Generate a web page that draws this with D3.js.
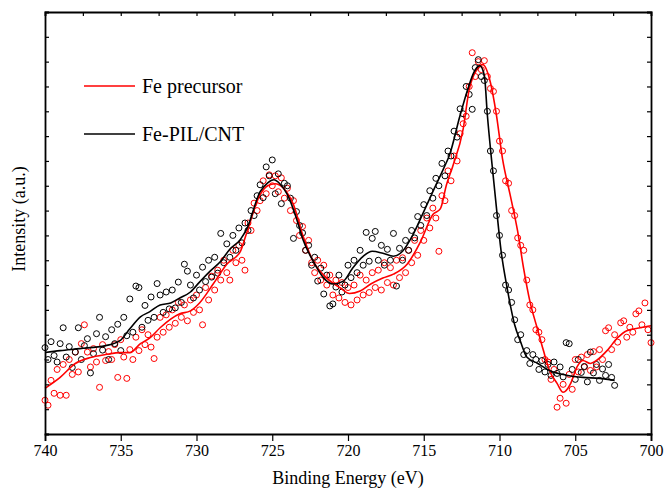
<!DOCTYPE html>
<html>
<head>
<meta charset="utf-8">
<script src="https://cdn.jsdelivr.net/npm/d3@7"></script>
<style>
  body { margin: 0; background: #fff; }
  text { font-family: "Liberation Serif", "Times New Roman", serif; fill: #000; }
</style>
</head>
<body>
<svg id="chart"></svg>
<script>
// scan grid: binding energy of the first point and the step between points (eV)
const scanStart = 740;
const scanStep = 0.2;

// measured points, Fe precursor (740 -> 700 eV)
const redCounts = [
  136, 116, 216, 164, 260, 156, 280, 156, 300, 240,
  330, 250, 364, 440, 330, 270, 344, 290, 188, 360,
  296, 332, 300, 360, 228, 380, 310, 224, 340, 300,
  390, 336, 420, 360, 400, 350, 304, 390, 470, 410,
  480, 430, 500, 446, 530, 470, 520, 456, 540, 490,
  560, 500, 440, 590, 540, 636, 580, 660, 620, 700,
  650, 620, 740, 690, 760, 700, 660, 850, 820, 930,
  900, 940, 1020, 968, 1044, 1000, 1040, 976, 1032, 950,
  990, 900, 940, 860, 800, 836, 740, 780, 690, 650,
  700, 620, 680, 600, 640, 560, 620, 548, 610, 530,
  590, 520, 600, 540, 640, 560, 620, 570, 650, 590,
  660, 580, 690, 610, 670, 600, 700, 630, 710, 650,
  740, 690, 780, 720, 820, 780, 870, 830, 910, 870,
  736, 960, 940, 1060, 1020, 1120, 1100, 1210, 1250, 1280,
  1400, 1536, 1440, 1500, 1468, 1504, 1440, 1392, 1380, 1300,
  1180, 1140, 1020, 1010, 900, 880, 790, 760, 740, 620,
  520, 500, 420, 410, 380, 300, 290, 220, 260, 108,
  144, 200, 124, 240, 180, 300, 250, 310, 270, 320,
  256, 332, 270, 340, 300, 416, 428, 340, 400, 370,
  448, 456, 390, 430, 410, 484, 496, 440, 528, 420,
  368,
];

// measured points, Fe-PIL/CNT (740 -> 702.4 eV)
const blackCounts = [
  348, 300, 372, 316, 290, 364, 428, 310, 352, 268,
  330, 428, 300, 356, 384, 246, 324, 404, 470, 338,
  392, 300, 420, 364, 442, 336, 470, 396, 544, 410,
  596, 590, 430, 518, 458, 552, 470, 606, 560, 490,
  572, 504, 580, 508, 612, 530, 684, 656, 600, 548,
  640, 580, 672, 614, 700, 632, 712, 648, 808, 690,
  766, 712, 800, 740, 830, 770, 850, 820, 900, 880,
  960, 1004, 952, 1076, 1040, 1104, 968, 1048, 928, 1010,
  1000, 950, 788, 896, 840, 810, 740, 760, 680, 712,
  616, 668, 564, 640, 516, 524, 592, 640, 572, 600,
  680, 630, 700, 650, 740, 680, 812, 696, 788, 816,
  700, 760, 680, 744, 700, 808, 596, 748, 700, 780,
  740, 820, 790, 876, 840, 924, 880, 980, 950, 1030,
  1000, 1090, 1040, 1140, 1120, 1220, 1196, 1310, 1290, 1400,
  1368, 1308, 1476, 1508, 1440, 1424, 1300, 1140, 1060, 880,
  800, 720, 600, 580, 530, 460, 380, 400, 320, 336,
  284, 320, 300, 260, 296, 250, 280, 236, 290, 244,
  270, 230, 368, 364, 260, 220, 300, 248, 272, 210,
  330, 246, 280, 216, 262, 236, 280, 228, 196,
];

// smoothed fit curves [binding energy, intensity]
const redFit = [
  [740, 184], [739, 228], [738, 284], [737, 308], [736, 320], [735, 328], [734.4, 328],
  [733.7, 364], [733.1, 386], [732.4, 428], [731.1, 484], [730.4, 496], [729.8, 528],
  [728.9, 604], [728, 684], [727.1, 736], [726.7, 808], [725.8, 964], [725.3, 1000],
  [724.8, 1008], [724.3, 992], [723.6, 924], [723, 804], [722.3, 696], [721.4, 628],
  [720.5, 588], [719.9, 566], [719.2, 576], [718.5, 604], [717.7, 628], [717, 644],
  [716.1, 684], [715.2, 776], [714.4, 884], [713.9, 908], [713.5, 1004], [713.1, 1076],
  [712.4, 1228], [712, 1388], [711.5, 1468], [711.1, 1488], [710.6, 1416], [710.2, 1284],
  [709.8, 1108], [709.3, 964], [708.8, 816], [708.4, 664], [708, 536], [707.5, 424],
  [707.1, 336], [706.7, 256], [706.2, 204], [705.8, 168], [705.3, 204], [704.9, 268],
  [704.5, 296], [704, 284], [703.6, 296], [702.9, 336], [702.2, 388], [701.6, 416],
  [700.7, 428], [700, 436],
];
const blackFit = [
  [740, 328], [739, 336], [737.7, 344], [736, 356], [735.05, 376], [734.4, 424],
  [733.7, 472], [733.1, 492], [732.4, 520], [731.7, 528], [731.1, 548], [730.4, 572],
  [729.8, 612], [729.1, 656], [728.4, 696], [727.8, 744], [727.1, 784], [726.7, 824],
  [725.8, 976], [725.3, 1012], [724.9, 1024], [724.5, 1008], [724, 964], [723.4, 868],
  [723, 788], [722.3, 696], [721.6, 628], [721, 604], [720.3, 616], [719.7, 668],
  [719, 716], [718.4, 736], [717.7, 728], [717, 716], [716.4, 736], [715.7, 804],
  [715, 896], [714.4, 976], [713.7, 1068], [713.3, 1124], [712.6, 1284], [712.1, 1388],
  [711.7, 1456], [711.3, 1484], [711, 1444], [710.8, 1284], [710.5, 1090], [710.2, 910],
  [709.9, 740], [709.5, 590], [709, 440], [708.6, 370], [708.2, 310], [707.5, 285],
  [706.7, 256], [705.5, 236], [704.5, 228], [703.4, 224], [702.4, 216],
];

const xTicks = [740, 735, 730, 725, 720, 715, 710, 705, 700];
const seriesNames = ["Fe precursor", "Fe-PIL/CNT"];
const seriesColors = ["#ff0000", "#000000"];

/////////////////////////

const margin = { top: 12, right: 15, bottom: 56, left: 45 };
const width = 666 - margin.left - margin.right;
const height = 490 - margin.top - margin.bottom;

const svg = d3.select("#chart").attr("width", 666).attr("height", 490);
const g = svg.append("g").attr("transform", `translate(${margin.left},${margin.top})`);

// binding energy runs right to left
const xscale = d3.scaleLinear().domain([740, 700]).range([0, width]);
const yscale = d3.scaleLinear().domain([0, 1700]).range([height, 0]);

const toPoints = (counts) =>
  counts.map((v, i) => ({ be: +(scanStart - i * scanStep).toFixed(1), v }));

const line = d3
  .line()
  .x((d) => xscale(d[0]))
  .y((d) => yscale(d[1]))
  .curve(d3.curveMonotoneX);

// scatter first, fits on top
[redCounts, blackCounts].forEach((counts, k) => {
  g.append("g")
    .selectAll("circle")
    .data(toPoints(counts))
    .join("circle")
    .attr("cx", (d) => xscale(d.be))
    .attr("cy", (d) => yscale(d.v))
    .attr("r", 3)
    .attr("fill", "none")
    .attr("stroke", seriesColors[k])
    .attr("stroke-width", 1);
});

[redFit, blackFit].forEach((fit, k) => {
  g.append("path")
    .datum(fit)
    .attr("d", line)
    .attr("fill", "none")
    .attr("stroke", seriesColors[k])
    .attr("stroke-width", 1.6);
});

// axes: labelled bottom, plain ticks on the other sides
const minor = d3.range(740, 699, -2.5);
const g_bottom = g.append("g").attr("transform", `translate(0,${height})`);
g_bottom.call(d3.axisBottom(xscale).tickValues(minor).tickSize(5).tickFormat(""));
g_bottom.call(d3.axisBottom(xscale).tickValues(xTicks).tickSize(7).tickFormat(d3.format("d")).tickPadding(4));
g_bottom.selectAll("text").style("font-size", "16px");

g.append("g").call(d3.axisTop(xscale).tickValues(minor).tickSize(-4).tickFormat(""));
const yt = d3.range(0, 1701, 100);
g.append("g").call(d3.axisLeft(yscale).tickValues(yt).tickSize(-4).tickFormat(""));
g.append("g")
  .attr("transform", `translate(${width},0)`)
  .call(d3.axisRight(yscale).tickValues(yt).tickSize(-4).tickFormat(""));

g.selectAll(".domain").attr("stroke", "#000").attr("stroke-width", 1.8);
g.selectAll(".tick line").attr("stroke", "#000").attr("stroke-width", 1.2);

// titles
svg.append("text")
  .attr("x", margin.left + width / 2)
  .attr("y", 484)
  .attr("text-anchor", "middle")
  .style("font-size", "18px")
  .text("Binding Energy (eV)");

svg.append("text")
  .attr("transform", `translate(25,${margin.top + 207}) rotate(-90)`)
  .attr("text-anchor", "middle")
  .style("font-size", "18px")
  .text("Intensity (a.u.)");

// legend
const legend = svg.append("g");
seriesNames.forEach((name, k) => {
  const y = 86 + k * 48;
  legend.append("line")
    .attr("x1", 84).attr("x2", 135)
    .attr("y1", y).attr("y2", y)
    .attr("stroke", seriesColors[k])
    .attr("stroke-width", 1.6);
  legend.append("text")
    .attr("x", 142)
    .attr("y", y + 7)
    .style("font-size", "20px")
    .text(name);
});
</script>
</body>
</html>
